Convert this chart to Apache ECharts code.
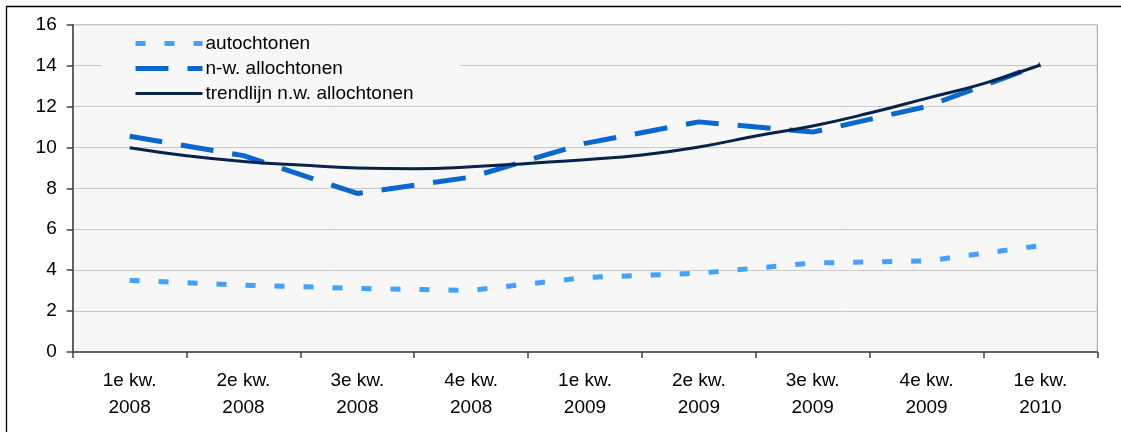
<!DOCTYPE html>
<html>
<head>
<meta charset="utf-8">
<script src="https://cdn.jsdelivr.net/npm/echarts@6/dist/echarts.min.js"></script>
<style>
html,body{margin:0;padding:0;background:#fff;}
#c{width:1121px;height:432px;}
</style>
</head>
<body>
<div id="c"></div>
<script>
var quarters = ['1e kw.\n2008','2e kw.\n2008','3e kw.\n2008','4e kw.\n2008','1e kw.\n2009','2e kw.\n2009','3e kw.\n2009','4e kw.\n2009','1e kw.\n2010'];
var autochtonen = [3.5, 3.27, 3.11, 3.01, 3.64, 3.85, 4.35, 4.45, 5.2];
var nwAllochtonen = [10.55, 9.6, 7.75, 8.55, 10.2, 11.25, 10.75, 12.0, 14.05];
// trend line read at half-quarter steps (position in quarter units, 0.5 = first quarter centre)
var trendPos = [0.5,1.0,1.5,2.0,2.5,3.0,3.5,4.0,4.5,5.0,5.5,6.0,6.5,7.0,7.5,8.0,8.5];
var trendVal = [9.98,9.59,9.31,9.14,9.0,8.96,9.05,9.22,9.4,9.63,10.02,10.56,11.05,11.68,12.4,13.12,14.03];
var yTicks = {min:0, max:16, interval:2};

var trendData = trendPos.map(function(p,i){return [p, trendVal[i]];});
var font = 'Liberation Sans, Arial, sans-serif';
var chart = echarts.init(document.getElementById('c'), null, {renderer:'canvas'});
chart.setOption({
  animation:false,
  backgroundColor:'#ffffff',
  textStyle:{fontFamily:font},
  graphic:[{type:'rect', shape:{x:6.5,y:6.5,width:1300,height:600}, style:{fill:null, stroke:'#000', lineWidth:1.3}, silent:true, z:-10}],
  grid:{left:72.7, right:23.7, top:24.7, bottom:80, show:true, backgroundColor:'#f7f7f7', borderColor:'#a0a0a0', borderWidth:1},
  legend:{
    orient:'vertical', left:102, top:31,
    data:['autochtonen','n-w. allochtonen','trendlijn n.w. allochtonen'],
    itemWidth:67, itemHeight:14, itemGap:6,
    backgroundColor:'#f7f7f7',
    padding:[3,46,2,31],
    itemStyle:{opacity:0},
    lineStyle:{width:'inherit'},
    textStyle:{fontSize:19, color:'#000', fontFamily:font, padding:[0,0,0,-2]}
  },
  xAxis:[{
    type:'category', data:quarters, boundaryGap:true,
    axisLine:{lineStyle:{color:'#404040', width:1.5}},
    axisTick:{show:true, alignWithLabel:false, length:6, lineStyle:{color:'#404040', width:1.5}},
    axisLabel:{color:'#000', fontSize:19, lineHeight:27, margin:15, fontFamily:font, interval:0},
    splitLine:{show:false}
  },{
    type:'value', min:0, max:9, show:false, gridIndex:0
  }],
  yAxis:{
    type:'value', min:yTicks.min, max:yTicks.max, interval:yTicks.interval,
    axisLine:{show:true, lineStyle:{color:'#404040', width:1.5}},
    axisTick:{show:true, length:6, lineStyle:{color:'#404040', width:1.5}},
    axisLabel:{color:'#000', fontSize:19, margin:16, fontFamily:font},
    splitLine:{show:true, lineStyle:{color:'#c8c8c8', width:1}}
  },
  series:[{
    name:'autochtonen', type:'line', xAxisIndex:0, data:autochtonen, symbol:'none', smooth:false,
    itemStyle:{color:'#42a0ff'},
    lineStyle:{color:'#42a0ff', width:5, type:[10,19], cap:'butt'}, z:2
  },{
    name:'n-w. allochtonen', type:'line', xAxisIndex:0, data:nwAllochtonen, symbol:'none', smooth:false,
    itemStyle:{color:'#0868d0'},
    lineStyle:{color:'#0868d0', width:5, type:[33,19], cap:'butt'}, z:3
  },{
    name:'trendlijn n.w. allochtonen', type:'line', xAxisIndex:1, data:trendData, symbol:'none', smooth:0.5,
    itemStyle:{color:'#06234a'},
    lineStyle:{color:'#06234a', width:3}, z:4
  }]
});
</script>
</body>
</html>
